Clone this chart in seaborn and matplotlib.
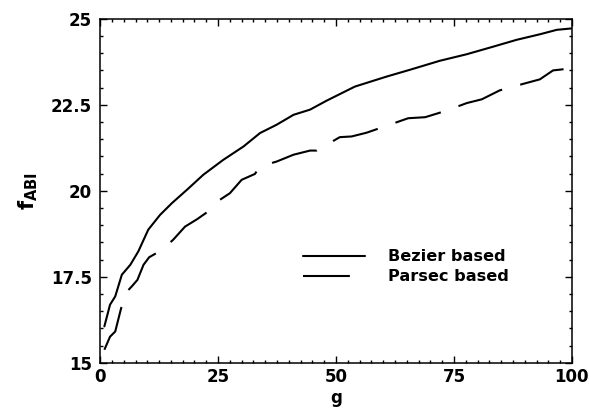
import matplotlib
matplotlib.use("Agg")
import matplotlib.pyplot as plt
from matplotlib.ticker import MultipleLocator
import pandas as pd
import seaborn as sns

# ===== DATA =====
bezier_g = [0.9, 2.1, 3.2, 4.6, 6.4, 8.1, 10.2, 12.7, 15.2, 18.4, 21.9, 26.1,
            30.4, 33.9, 37.4, 41.0, 44.5, 48.0, 54.0, 60.7, 65.7, 72.0, 77.7,
            83.3, 88.3, 93.2, 96.8, 99.9]
bezier_f = [16.06, 16.69, 16.93, 17.56, 17.85, 18.24, 18.87, 19.30, 19.64, 20.03,
            20.47, 20.90, 21.29, 21.68, 21.92, 22.21, 22.36, 22.62, 23.03, 23.32,
            23.52, 23.78, 23.97, 24.19, 24.39, 24.55, 24.68, 24.72]

parsec_g = [0.9, 2.1, 3.2, 4.4, 5.4, 6.7, 7.9, 9.2, 10.4, 13.1, 15.5, 18.0, 20.5,
            22.9, 25.4, 27.5, 30.0, 32.8, 33.9, 37.4, 41.0, 44.5, 45.9, 50.8,
            53.3, 56.5, 60.7, 65.3, 68.9, 73.4, 77.7, 80.9, 84.7, 89.7, 93.2,
            96.0, 99.9]
parsec_f = [15.38, 15.76, 15.91, 16.56, 17.03, 17.22, 17.41, 17.85, 18.07, 18.28,
            18.58, 18.96, 19.17, 19.40, 19.74, 19.93, 20.32, 20.49, 20.71, 20.85,
            21.05, 21.17, 21.17, 21.56, 21.58, 21.69, 21.89, 22.11, 22.14, 22.33,
            22.55, 22.66, 22.92, 23.11, 23.24, 23.50, 23.56]

labels = ["Bezier based", "Parsec based"]

df = pd.concat([
    pd.DataFrame({"g": bezier_g, "f": bezier_f, "series": labels[0]}),
    pd.DataFrame({"g": parsec_g, "f": parsec_f, "series": labels[1]}),
])

# ===== STYLE =====
sns.set_style("ticks")
plt.rcParams["font.family"] = ["DejaVu Sans"]
plt.rcParams["font.weight"] = "bold"
plt.rcParams["mathtext.fontset"] = "dejavusans"
plt.rcParams["text.color"] = "black"
plt.rcParams["axes.labelcolor"] = "black"

fig = plt.figure(figsize=(5.89, 4.18), dpi=100)
ax = fig.add_axes([0.170, 0.132, 0.801, 0.823])

sns.lineplot(data=df, x="g", y="f", hue="series", style="series",
             palette={labels[0]: "black", labels[1]: "black"},
             dashes={labels[0]: "", labels[1]: (22.5, 9.0)},
             linewidth=1.5, sort=False, estimator=None, ax=ax)

ax.set_xlim(0, 100)
ax.set_ylim(15, 25)
ax.xaxis.set_major_locator(MultipleLocator(25))
ax.xaxis.set_minor_locator(MultipleLocator(2.5))
ax.yaxis.set_major_locator(MultipleLocator(2.5))
ax.yaxis.set_minor_locator(MultipleLocator(0.5))
ax.set_yticks([15, 17.5, 20, 22.5, 25])
ax.set_yticklabels(["15", "17.5", "20", "22.5", "25"])

for s in ax.spines.values():
    s.set_visible(True)
    s.set_linewidth(1.1)
    s.set_color("black")

ax.tick_params(which="both", direction="in", top=True, right=True,
               colors="black", width=1.0, labelsize=12)
ax.tick_params(which="major", length=5, pad=4)
ax.tick_params(which="minor", length=2.5)
ax.tick_params(axis="y", which="major", pad=6)
for t in ax.get_xticklabels() + ax.get_yticklabels():
    t.set_fontweight("bold")

ax.set_xlabel("g", fontsize=12, fontweight="bold", labelpad=2)
ax.set_ylabel(r"$\mathbf{f}_{\mathbf{ABI}}$", fontsize=15, labelpad=8)

leg = ax.legend(loc="center left", bbox_to_anchor=(0.43, 0.279), frameon=False,
                prop={"size": 11.6, "weight": "bold"}, handlelength=3.85,
                handletextpad=1.4, labelspacing=0.3, borderpad=0, borderaxespad=0)
for t in leg.get_texts():
    t.set_color("black")

plt.savefig("out.png", dpi=100)
plt.close()
